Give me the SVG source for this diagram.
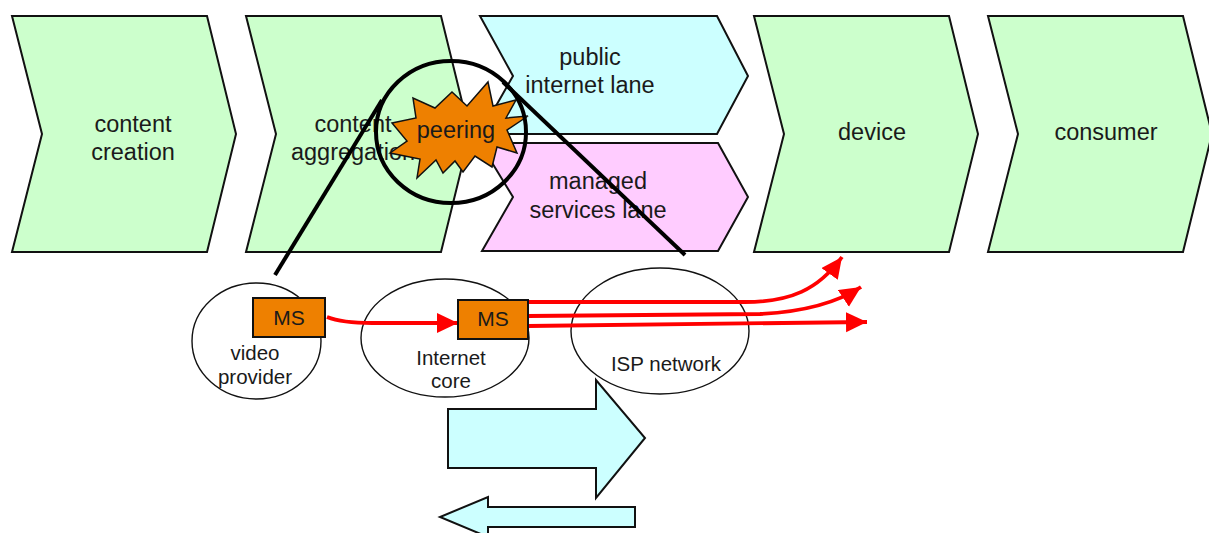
<svg xmlns="http://www.w3.org/2000/svg" width="1209" height="533" viewBox="0 0 1209 533">
  <style>
    .stage { fill: #ccffcc; stroke: #111; stroke-width: 2; stroke-linejoin: miter; }
    .lane-pub { fill: #ccffff; stroke: #111; stroke-width: 2; }
    .lane-man { fill: #ffccff; stroke: #111; stroke-width: 2; }
    .big { font-family: "Liberation Sans", Arial, sans-serif; font-size: 23.5px; fill: #1a1a1a; text-anchor: middle; }
    .small { font-family: "Liberation Sans", Arial, sans-serif; font-size: 20.5px; fill: #1a1a1a; text-anchor: middle; }
    .ms { font-family: "Liberation Sans", Arial, sans-serif; font-size: 21px; fill: #1a1a1a; text-anchor: middle; }
    .domain { fill: #fff; stroke: #111; stroke-width: 1.4; }
    .msbox { fill: #ee8000; stroke: #111; stroke-width: 2; }
    .flow { fill: none; stroke: #ff0000; stroke-width: 3.8; }
    .zoom { fill: none; stroke: #000; stroke-width: 4; }
    .dir { fill: #ccffff; stroke: #111; stroke-width: 2; }
  </style>
  <defs>
    <marker id="redhead" markerUnits="userSpaceOnUse" markerWidth="24" markerHeight="22" refX="21" refY="10" orient="auto">
      <path d="M0,0 L21,10 L0,20 Z" fill="#ff0000"/>
    </marker>
  </defs>

  <!-- value chain stages -->
  <g id="stage-creation">
    <path class="stage" d="M12,16 L207,16 L236,134 L207,252 L12,252 L42,134 Z"/>
    <text class="big" x="133" y="132">content</text>
    <text class="big" x="133" y="160">creation</text>
  </g>
  <g id="stage-aggregation">
    <path class="stage" d="M246,16 L441,16 L470,134 L441,252 L246,252 L276,134 Z"/>
    <text class="big" x="353" y="132">content</text>
    <text class="big" x="353" y="160">aggregation</text>
  </g>
  <g id="lane-public">
    <path class="lane-pub" d="M480,16 L717,16 L748,76 L717,134 L480,134 L513,76 Z"/>
    <text class="big" x="590" y="65">public</text>
    <text class="big" x="590" y="93">internet lane</text>
  </g>
  <g id="lane-managed">
    <path class="lane-man" d="M480,143 L718,143 L748,197 L718,251 L482,251 L513,197 Z"/>
    <text class="big" x="598" y="189">managed</text>
    <text class="big" x="598" y="218">services lane</text>
  </g>
  <g id="stage-device">
    <path class="stage" d="M754,16 L949,16 L978,134 L949,252 L754,252 L784,134 Z"/>
    <text class="big" x="872" y="140">device</text>
  </g>
  <g id="stage-consumer">
    <path class="stage" d="M988,16 L1183,16 L1212,134 L1183,252 L988,252 L1018,134 Z"/>
    <text class="big" x="1106" y="140">consumer</text>
  </g>

  <!-- peering burst -->
  <g id="peering">
    <path fill="#ee8000" stroke="#111" stroke-width="1.5" stroke-linejoin="miter"
      d="M488,82 L493,106 L516,100 L506,118 L528,116 L507,130 L517,153 L497,147 L492,167 L475,156 L463,172 L455,161 L443,173 L436,160 L417,178 L420,159 L390,153 L407,141 L392,123 L416,118 L413,98 L435,108 L452,92 L467,106 Z"/>
    <text class="big" x="456" y="138">peering</text>
  </g>

  <!-- magnifier callout -->
  <g id="magnifier">
    <ellipse class="zoom" cx="451" cy="132" rx="75" ry="71"/>
    <line class="zoom" x1="275" y1="275" x2="382" y2="100"/>
    <line class="zoom" x1="685" y1="255" x2="503" y2="82"/>
  </g>

  <!-- network domains -->
  <g id="video-provider">
    <ellipse class="domain" cx="256.5" cy="341" rx="64.5" ry="58"/>
    <text class="small" x="255" y="360">video</text>
    <text class="small" x="255" y="384">provider</text>
  </g>
  <g id="internet-core">
    <ellipse class="domain" cx="445" cy="338" rx="84" ry="59"/>
    <text class="small" x="451" y="365">Internet</text>
    <text class="small" x="451" y="388">core</text>
  </g>
  <g id="isp-network">
    <ellipse class="domain" cx="660" cy="331" rx="89" ry="63"/>
    <text class="small" x="666" y="371">ISP network</text>
  </g>
  <g id="ms-provider">
    <rect class="msbox" x="253" y="298" width="72" height="39"/>
    <text class="ms" x="289" y="325">MS</text>
  </g>

  <!-- media flows -->
  <g id="connectors">
    <path class="flow" d="M327,317 Q342,323 372,323 L458,323" marker-end="url(#redhead)"/>
    <path class="flow" d="M528,302 L745,302 C790,302 818,290 842,257" marker-end="url(#redhead)"/>
    <path class="flow" d="M528,316 L760,314 C800,312 835,304 861,287" marker-end="url(#redhead)"/>
    <path class="flow" d="M528,326 L867,322" marker-end="url(#redhead)"/>
  </g>

  <g id="ms-core">
    <rect class="msbox" x="458" y="300" width="70" height="39"/>
    <text class="ms" x="493" y="326">MS</text>
  </g>

  <!-- traffic direction arrows -->
  <g id="downstream">
    <path class="dir" d="M448,409 L596,409 L596,380 L645,438 L596,498 L596,468 L448,468 Z"/>
  </g>
  <g id="upstream">
    <path class="dir" d="M635,507 L488,507 L488,497 L440,517 L488,537 L488,527 L635,527 Z"/>
  </g>
</svg>
